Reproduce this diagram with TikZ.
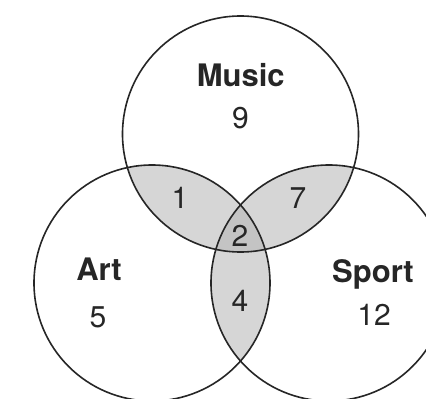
\documentclass[tikz,border=0pt]{standalone}
\usepackage{fontspec}
\setmainfont{TeX Gyre Heros}
\definecolor{pairgray}{RGB}{214,214,214}
\definecolor{triplegray}{RGB}{196,196,196}
\definecolor{ink}{RGB}{38,38,38}
\tikzset{
  ring/.style={draw=ink, line width=1.6pt},
  title/.style={anchor=base, text=ink, font=\bfseries\fontsize{31}{31}\selectfont, inner sep=0pt},
  count/.style={anchor=base, text=ink, font=\fontsize{30}{30}\selectfont, inner sep=0pt}
}
\begin{document}
\begin{tikzpicture}[x=1pt,y=-1pt]
\useasboundingbox (0,0) rectangle (426,399);
\fill[white] (0,0) rectangle (426,399);
\coordinate (M) at (240.5,134);
\coordinate (A) at (152,283);
\coordinate (S) at (329,283);
% pairwise overlaps
\begin{scope}
  \clip (M) circle[radius=118pt];
  \fill[pairgray] (A) circle[radius=118pt];
  \fill[pairgray] (S) circle[radius=118pt];
\end{scope}
\begin{scope}
  \clip (A) circle[radius=118pt];
  \fill[pairgray] (S) circle[radius=118pt];
\end{scope}
% triple overlap
\begin{scope}
  \clip (M) circle[radius=118pt];
  \clip (A) circle[radius=118pt];
  \fill[triplegray] (S) circle[radius=118pt];
\end{scope}
% circles
\draw[ring] (M) circle[radius=118pt];
\draw[ring] (A) circle[radius=118pt];
\draw[ring] (S) circle[radius=118pt];
% labels
\node[title] (music) at (240.8,86) {Music};
\node[count] (n9) at (240.5,128) {9};
\node[title] (art) at (99,280) {Art};
\node[count] (n5) at (98,327) {5};
\node[title] (sport) at (373,282.5) {Sport};
\node[count] (n12) at (374,325) {12};
\node[count] (n1) at (180,208) {1};
\node[count] (n7) at (298,208) {7};
\node[count] (n2) at (240,246) {2};
\node[count] (n4) at (240,311) {4};
\end{tikzpicture}
\end{document}
